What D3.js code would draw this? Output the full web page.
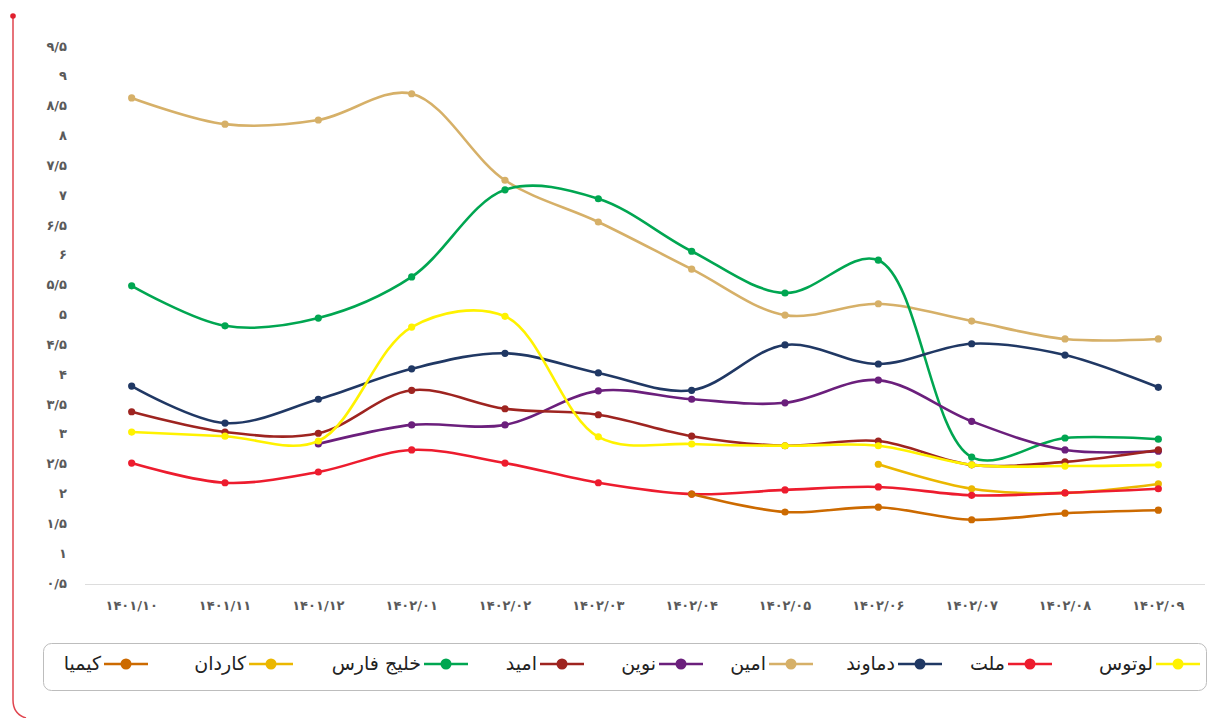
<!DOCTYPE html>
<html><head><meta charset="utf-8">
<script src="https://cdn.jsdelivr.net/npm/d3@7"></script>
<style>
body{margin:0;background:#fff;}
svg{display:block;font-family:"DejaVu Sans",sans-serif;}
</style>
</head><body>
<svg id="chart" width="1229" height="718"></svg>
<script>
// ---- data ----
const categories = ["1401/10","1401/11","1401/12","1402/01","1402/02","1402/03","1402/04","1402/05","1402/06","1402/07","1402/08","1402/09"];
const xTickLabels = ["۱۴۰۱/۱۰","۱۴۰۱/۱۱","۱۴۰۱/۱۲","۱۴۰۲/۰۱","۱۴۰۲/۰۲","۱۴۰۲/۰۳","۱۴۰۲/۰۴","۱۴۰۲/۰۵","۱۴۰۲/۰۶","۱۴۰۲/۰۷","۱۴۰۲/۰۸","۱۴۰۲/۰۹"];
const yTicks = [0.5,1,1.5,2,2.5,3,3.5,4,4.5,5,5.5,6,6.5,7,7.5,8,8.5,9,9.5];
const yTickLabels = ["۰/۵","۱","۱/۵","۲","۲/۵","۳","۳/۵","۴","۴/۵","۵","۵/۵","۶","۶/۵","۷","۷/۵","۸","۸/۵","۹","۹/۵"];

const seriesNames = ["لوتوس","ملت","دماوند","امین","نوین","امید","خلیج فارس","کاردان","کیمیا"];
const seriesColors = ["#FFF200","#ED1C2E","#203864","#D6B068","#6B1F7C","#9E2420","#00A651","#EBB700","#CC6A00"];

const lotus    = [3.03,2.96,2.88,4.79,4.97,2.95,2.83,2.80,2.80,2.48,2.46,2.48];
const mellat   = [2.51,2.18,2.36,2.73,2.51,2.18,1.99,2.06,2.11,1.97,2.01,2.08];
const damavand = [3.80,3.18,3.58,4.09,4.35,4.02,3.73,4.49,4.17,4.51,4.32,3.78];
const amin     = [8.63,8.19,8.26,8.70,7.25,6.55,5.76,4.99,5.18,4.89,4.59,4.59];
const novin    = [null,null,2.83,3.15,3.15,3.72,3.58,3.52,3.90,3.21,2.73,2.71];
const omid     = [3.37,3.03,3.01,3.73,3.42,3.32,2.96,2.80,2.88,2.48,2.53,2.73];
const khalij   = [5.48,4.81,4.94,5.63,7.09,6.94,6.06,5.36,5.91,2.61,2.93,2.91];
const kardan   = [null,null,null,null,null,null,null,null,2.49,2.08,2.01,2.16];
const kimia    = [null,null,null,null,null,null,1.99,1.69,1.77,1.56,1.67,1.72];

const seriesValues = [lotus,mellat,damavand,amin,novin,omid,khalij,kardan,kimia];
const drawOrder = [3,6,2,4,5,7,1,8,0];

// ---- layout ----
const svg = d3.select("#chart");
const x = d3.scaleBand().domain(categories).range([85,1205]);
const y = d3.scaleLinear().domain([0.5,9.5]).range([583,46]);
const cx = c => x(c) + x.bandwidth()/2;

// left red decoration
svg.append("path")
  .attr("d","M13,16 L13,700 Q13,714 26,718")
  .attr("fill","none").attr("stroke","#E0454F").attr("stroke-width",1.5);
svg.append("circle").attr("cx",13).attr("cy",16).attr("r",2.8).attr("fill","#E0202E");

// baseline
svg.append("line").attr("x1",85).attr("x2",1205).attr("y1",584.5).attr("y2",584.5)
  .attr("stroke","#dddddd").attr("stroke-width",1);

// y ticks
svg.append("g").selectAll("text").data(yTicks).join("text")
  .attr("x",67).attr("y",d=>y(d)).attr("dy","0.35em")
  .attr("text-anchor","end").attr("font-size",13).attr("font-weight","bold")
  .attr("fill","#5a5a5a").attr("direction","ltr")
  .text((d,i)=>yTickLabels[i]);

// x ticks
svg.append("g").selectAll("text").data(categories).join("text")
  .attr("x",d=>cx(d)).attr("y",610)
  .attr("text-anchor","middle").attr("font-size",13).attr("font-weight","bold")
  .attr("fill","#5a5a5a").attr("direction","ltr")
  .text((d,i)=>xTickLabels[i]);

// lines
const line = d3.line()
  .defined(d=>d.v!=null)
  .x(d=>cx(d.c)).y(d=>y(d.v))
  .curve(d3.curveCatmullRom.alpha(0.5));

const g = svg.append("g");
drawOrder.forEach(si=>{
  const pts = categories.map((c,i)=>({c, v: seriesValues[si][i]}));
  g.append("path").datum(pts).attr("d",line)
    .attr("fill","none").attr("stroke",seriesColors[si]).attr("stroke-width",2.6)
    .attr("stroke-linejoin","round").attr("stroke-linecap","round");
  g.append("g").selectAll("circle").data(pts.filter(p=>p.v!=null)).join("circle")
    .attr("cx",d=>cx(d.c)).attr("cy",d=>y(d.v)).attr("r",3.6)
    .attr("fill",seriesColors[si]);
});

// legend
svg.append("rect").attr("x",43.5).attr("y",643.5).attr("width",1163).attr("height",47)
  .attr("rx",8).attr("fill","none").attr("stroke","#bdbdbd").attr("stroke-width",1);

const legendDotX = [1178,1030,920,791,681,562,446,271,126];
const lg = svg.append("g");
seriesNames.forEach((name,i)=>{
  const dx = legendDotX[i], ly = 664;
  lg.append("line").attr("x1",dx-22).attr("x2",dx+22).attr("y1",ly).attr("y2",ly)
    .attr("stroke",seriesColors[i]).attr("stroke-width",2.6);
  lg.append("circle").attr("cx",dx).attr("cy",ly).attr("r",5.5).attr("fill",seriesColors[i]);
  lg.append("text").attr("x",dx-25).attr("y",ly).attr("dy","0.3em")
    .attr("text-anchor","end").attr("font-size",19).attr("fill","#222")
    .text(name);
});
</script>
</body></html>
